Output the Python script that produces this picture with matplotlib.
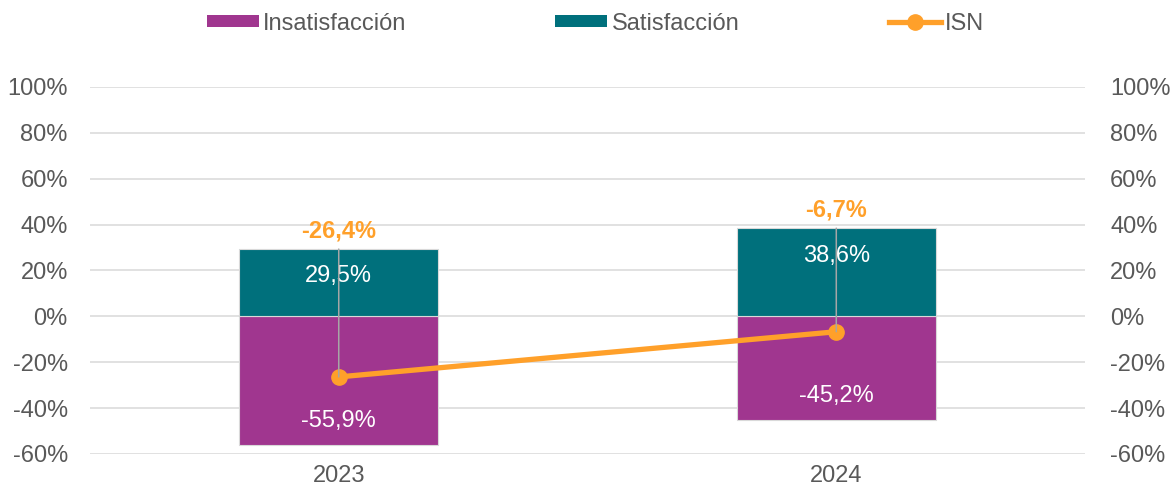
import matplotlib.pyplot as plt
from matplotlib.transforms import offset_copy
from matplotlib.lines import Line2D
from matplotlib.patches import Patch

plt.rcParams['font.family'] = ['Liberation Sans', 'DejaVu Sans']

YEARS = ["2023", "2024"]
INSATISFACCION = [-55.9, -45.2]
SATISFACCION = [29.5, 38.6]
ISN = [-26.4, -6.7]

PURPLE = "#A0368F"
TEAL = "#00707C"
ORANGE = "#FFA02A"
GREY_TXT = "#595959"
GRID = "#D9D9D9"


def fmt(v):
    return "{:.1f}%".format(v).replace(".", ",")


def main():
    fig = plt.figure(figsize=(11.7, 4.9), dpi=100)
    ax = fig.add_axes([0.0769, 0.0735, 0.8505, 0.749])
    x = list(range(len(YEARS)))

    ax.bar(x, INSATISFACCION, width=0.4, color=PURPLE, edgecolor=GRID, linewidth=0.8, zorder=2)
    ax.bar(x, SATISFACCION, width=0.4, color=TEAL, edgecolor=GRID, linewidth=0.8, zorder=2)
    ax.plot(x, ISN, color=ORANGE, lw=3.8, marker="o", markersize=11, zorder=4)

    for i in x:
        ax.annotate(fmt(SATISFACCION[i]), xy=(i, SATISFACCION[i]), xytext=(0, -20),
                    textcoords="offset points", ha="center", va="center",
                    color="white", fontsize=17, zorder=5)
        ax.annotate(fmt(INSATISFACCION[i]), xy=(i, INSATISFACCION[i]), xytext=(0, 17),
                    textcoords="offset points", ha="center", va="center",
                    color="white", fontsize=17, zorder=5)
        tr = offset_copy(ax.transData, fig=fig, x=0, y=13, units="points")
        ax.annotate(fmt(ISN[i]), xy=(i, ISN[i]), xytext=(i, SATISFACCION[i]),
                    textcoords=tr, ha="center", va="center", color=ORANGE,
                    fontsize=17, fontweight="bold", zorder=5,
                    arrowprops=dict(arrowstyle="-", color="#A6A6A6", lw=1.1,
                                    shrinkA=3, shrinkB=0))

    ax.set_xlim(-0.5, 1.5)
    ax.set_ylim(-60, 100)
    yt = list(range(-60, 101, 20))
    ax.set_yticks(yt)
    ax.set_yticklabels(["{}%".format(v) for v in yt])
    ax.set_xticks(x)
    ax.set_xticklabels(YEARS)
    ax.grid(axis="y", color=GRID, lw=1.1, zorder=0)
    ax.set_axisbelow(True)
    ax.tick_params(length=0, labelsize=17, labelcolor=GREY_TXT, pad=16)
    ax.tick_params(axis="x", pad=8)
    for s in ax.spines.values():
        s.set_visible(False)

    ax2 = ax.twinx()
    ax2.set_ylim(-60, 100)
    ax2.set_yticks(yt)
    ax2.set_yticklabels(["{}%".format(v) for v in yt])
    ax2.tick_params(length=0, labelsize=17, labelcolor=GREY_TXT, pad=18)
    for s in ax2.spines.values():
        s.set_visible(False)

    handles = [
        Patch(facecolor=PURPLE, label="Insatisfacción"),
        Patch(facecolor=TEAL, label="Satisfacción"),
        Line2D([0], [0], color=ORANGE, lw=3.8, marker="o", markersize=11, label="ISN"),
    ]
    fig.legend(handles=handles, loc="center", bbox_to_anchor=(0.509, 0.952), ncol=3,
               frameon=False, fontsize=17, labelcolor=GREY_TXT, handlelength=2.2,
               handleheight=0.45, handletextpad=0.2, columnspacing=6.3)

    fig.savefig("out.png", dpi=100)


if __name__ == '__main__':
    main()
